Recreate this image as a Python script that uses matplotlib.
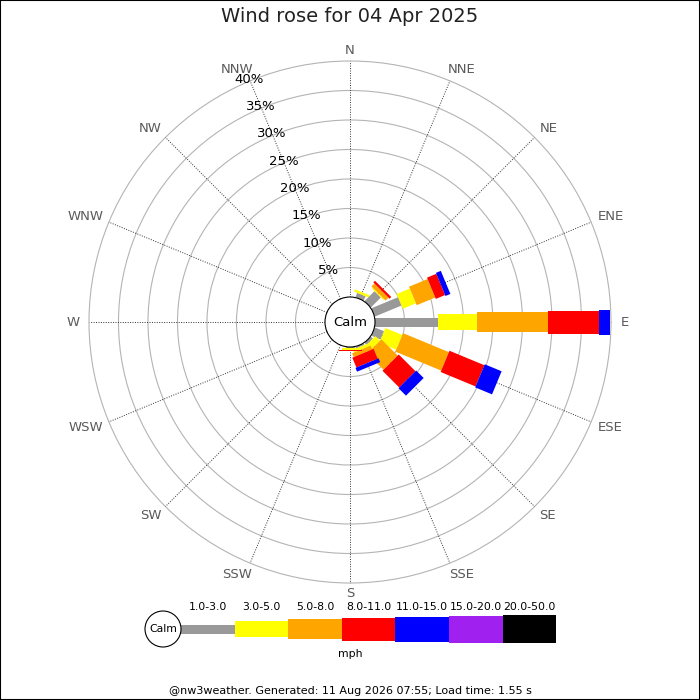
import numpy as np
import matplotlib
matplotlib.use("Agg")
from matplotlib import pyplot as plt
from matplotlib.patches import Polygon, Circle

# Daten (Prozent je Richtung und Geschwindigkeitsklasse)
directions = ["N", "NNE", "NE", "ENE", "E", "ESE", "SE", "SSE",
              "S", "SSW", "SW", "WSW", "W", "WNW", "NW", "NNW"]
speed_bins = ["1.0-3.0", "3.0-5.0", "5.0-8.0", "8.0-11.0",
              "11.0-15.0", "15.0-20.0", "20.0-50.0"]
bin_colors = ["#999999", "#ffff00", "#ffa500", "#ff0000",
              "#0000ff", "#a020f0", "#000000"]

freq_1_3 = [0, 0.8, 2.4, 4.9, 10.7, 1.7, 0.5, 0.3, 0.2, 0, 0, 0, 0, 0, 0, 0]
freq_3_5 = [0, 0.4, 0.2, 2.4, 6.6, 3.1, 1.1, 0.5, 0.25, 0, 0, 0, 0, 0, 0, 0]
freq_5_8 = [0, 0, 0.7, 3.4, 12.0, 8.4, 3.9, 0.7, 0.1, 0, 0, 0, 0, 0, 0, 0]
freq_8_11 = [0, 0, 0.4, 1.7, 8.7, 6.4, 4.0, 1.8, 0.2, 0, 0, 0, 0, 0, 0, 0]
freq_11_15 = [0, 0, 0, 0.9, 1.8, 3.1, 1.8, 0.7, 0, 0, 0, 0, 0, 0, 0, 0]
freq_15_20 = [0] * 16
freq_20_50 = [0] * 16

ring_pcts = [5, 10, 15, 20, 25, 30, 35, 40]

title = "Wind rose for 04 Apr 2025"
footer = "@nw3weather. Generated: 11 Aug 2026 07:55; Load time: 1.55 s"

# Geometrie (Pixel)
CX, CY = 350, 322
CALM_R = 25
PX_PER_PCT = 5.9
bar_widths = [9, 16, 20, 23, 25, 27, 28]


def rad(pct):
    return CALM_R + pct * PX_PER_PCT


def unit(i):
    a = np.radians(i * 22.5)
    return np.array([np.sin(a), -np.cos(a)]), np.array([np.cos(a), np.sin(a)])


fig = plt.figure(figsize=(7, 7), dpi=100)
ax = fig.add_axes([0, 0, 1, 1])
ax.set_xlim(0, 700)
ax.set_ylim(700, 0)
ax.set_xticks([])
ax.set_yticks([])
for s in ax.spines.values():
    s.set_linewidth(1.5)
    s.set_color("black")

c = np.array([CX, CY])

# Ringe
for p in ring_pcts:
    ax.add_patch(Circle(c, rad(p), fill=False, ec="#b4b4b4", lw=0.8, zorder=1))

# Speichen
for i in range(16):
    u, n = unit(i)
    p1 = c + u * CALM_R
    p2 = c + u * rad(ring_pcts[-1])
    ax.plot([p1[0], p2[0]], [p1[1], p2[1]], color="#333333", lw=0.7,
            linestyle=(0, (1, 1.5)), zorder=2)

# Balken
all_freqs = [freq_1_3, freq_3_5, freq_5_8, freq_8_11, freq_11_15, freq_15_20, freq_20_50]
for i in range(16):
    u, n = unit(i)
    cum = 0
    for b, freqs in enumerate(all_freqs):
        f = freqs[i]
        if f <= 0:
            continue
        r1, r2 = rad(cum), rad(cum + f)
        hw = bar_widths[b] / 2
        pts = [c + u * r1 + n * hw, c + u * r2 + n * hw,
               c + u * r2 - n * hw, c + u * r1 - n * hw]
        ax.add_patch(Polygon(pts, closed=True, fc=bin_colors[b], ec="none", zorder=3))
        cum += f

# Calm
ax.add_patch(Circle(c, CALM_R, fc="white", ec="black", lw=0.8, zorder=5))
ax.text(CX, CY, "Calm", ha="center", va="center", fontsize=9.5, zorder=6)

# Prozent-Beschriftung entlang NNW
u_nnw, _ = unit(15)
for p in ring_pcts:
    pos = c + u_nnw * (rad(p) + 1.5)
    ax.text(pos[0], pos[1], f"{p}%", ha="center", va="center", fontsize=9.5,
            color="black", zorder=6)

# Richtungen
dir_texts = []
for i, d in enumerate(directions):
    t = ax.text(CX, CY, d, ha="center", va="center", fontsize=9.5,
                color="#5a5a5a", zorder=6)
    dir_texts.append(t)

fig.canvas.draw()
renderer = fig.canvas.get_renderer()
for i, t in enumerate(dir_texts):
    bb = t.get_window_extent(renderer)
    hw = bb.width / 2
    u, n = unit(i)
    pos = c + u * 271.5
    if abs(u[0]) > 0.1:
        pos[0] += hw * (0.45 + 0.35 * abs(u[0])) * np.sign(u[0])
        if abs(u[1]) > 0.1:
            pos[1] += 2 * np.sign(u[1])
    t.set_position((pos[0], pos[1]))

# Titel
ax.text(350, 17, title, ha="center", va="center", fontsize=14, color="#222222")

# Legende
leg_x0, leg_y, seg = 181, 629, 53.6
ax.add_patch(Circle((163, leg_y), 18, fc="white", ec="black", lw=0.8, zorder=5))
ax.text(163, leg_y, "Calm", ha="center", va="center", fontsize=7.8, zorder=6)
for b, lab in enumerate(speed_bins):
    x1 = leg_x0 + b * seg
    hw = bar_widths[b] / 2
    ax.add_patch(Polygon([(x1, leg_y - hw), (x1 + seg, leg_y - hw),
                          (x1 + seg, leg_y + hw), (x1, leg_y + hw)],
                         closed=True, fc=bin_colors[b], ec="none", zorder=3))
    ax.text(x1 + seg / 2, 607, lab, ha="center", va="center", fontsize=7.8)
ax.text(350, 654, "mph", ha="center", va="center", fontsize=7.8)

ax.text(350, 691, footer, ha="center", va="center", fontsize=8)

fig.savefig("out.png", dpi=100)
